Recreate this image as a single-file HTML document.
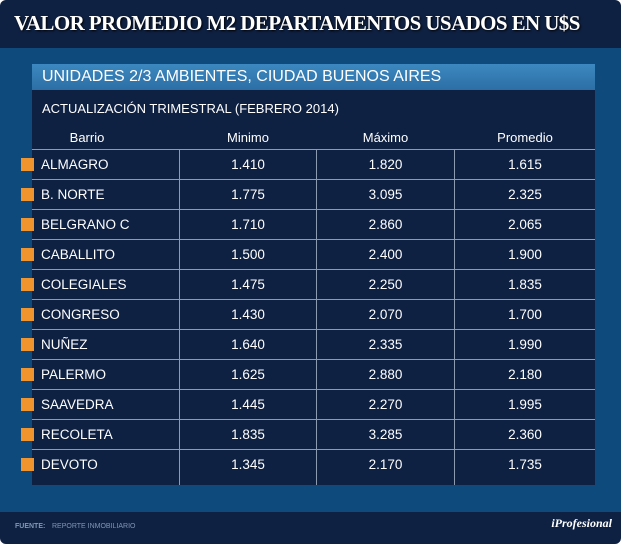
<!DOCTYPE html><html><head><style>
body{margin:0;width:621px;height:544px;background:#fff;font-family:"Liberation Sans",sans-serif;overflow:hidden}
.o{position:absolute;left:0;top:0;width:621px;height:544px;background:#0f2142;border-radius:6px;overflow:hidden}
.t{position:absolute;left:14px;top:11px;font-family:"Liberation Serif",serif;font-weight:bold;color:#fff;font-size:21px;text-shadow:1px 1px 2px #000;letter-spacing:-0.6px;white-space:nowrap}
.mid{position:absolute;left:0;top:48px;width:621px;height:464px;background:#0e4b7c}
.sub{position:absolute;left:32px;top:64px;width:563px;height:26px;background:linear-gradient(#3c88c0,#2c6fa6);color:#fff;font-size:16px;line-height:26px;text-indent:10px}
.pan{position:absolute;left:32px;top:90px;width:563px;height:395px;background:#0f2142}
.a{position:absolute;left:42px;top:101px;color:#fff;font-size:13px}
.h{position:absolute;top:130px;color:#fff;font-size:13px;text-align:center}
.r{position:absolute;left:32px;width:563px;height:30px;border-top:1px solid #8d9bb0;color:#fff;font-size:13.5px;line-height:30px}
.r span{position:absolute;text-align:center}
.sq{position:absolute;left:21px;width:13px;height:13px;background:#f0952e}
.v{position:absolute;top:149px;width:1px;height:336px;background:#8d9bb0}
.f{position:absolute;top:523px;font-size:7px;color:#7f97b8}
</style></head><body><div class="o">
<div class="t">VALOR PROMEDIO M2 DEPARTAMENTOS USADOS EN U$S</div>
<div class="mid"></div>
<div class="sub">UNIDADES 2/3 AMBIENTES, CIUDAD BUENOS AIRES</div>
<div class="pan"></div>
<div class="a">ACTUALIZACIÓN TRIMESTRAL (FEBRERO 2014)</div>
<div class="h" style="left:32px;width:110px">Barrio</div>
<div class="h" style="left:180px;width:136px">Minimo</div>
<div class="h" style="left:317px;width:137px">Máximo</div>
<div class="h" style="left:455px;width:140px">Promedio</div>
<div id="rows"></div>
<div class="v" style="left:179px"></div><div class="v" style="left:316px"></div><div class="v" style="left:454px"></div>
<div class="f" style="left:15px;font-weight:bold">FUENTE:</div>
<div class="f" style="left:52px">REPORTE INMOBILIARIO</div>
<div style="position:absolute;right:9px;top:516px;color:#fff;font-family:'Liberation Serif',serif;font-style:italic;font-weight:bold;font-size:12px">iProfesional</div>
</div>
<script>
var d=[["ALMAGRO","1.410","1.820","1.615"],["B. NORTE","1.775","3.095","2.325"],["BELGRANO C","1.710","2.860","2.065"],["CABALLITO","1.500","2.400","1.900"],["COLEGIALES","1.475","2.250","1.835"],["CONGRESO","1.430","2.070","1.700"],["NUÑEZ","1.640","2.335","1.990"],["PALERMO","1.625","2.880","2.180"],["SAAVEDRA","1.445","2.270","1.995"],["RECOLETA","1.835","3.285","2.360"],["DEVOTO","1.345","2.170","1.735"]];
var h="";d.forEach(function(r,i){var y=149+i*30;h+='<div class="r" style="top:'+y+'px"><span style="left:9px">'+r[0]+'</span><span style="left:148px;width:136px">'+r[1]+'</span><span style="left:285px;width:137px">'+r[2]+'</span><span style="left:423px;width:140px">'+r[3]+'</span></div><div class="sq" style="top:'+(y+9)+'px"></div>';});
document.getElementById("rows").innerHTML=h;
</script></body></html>
